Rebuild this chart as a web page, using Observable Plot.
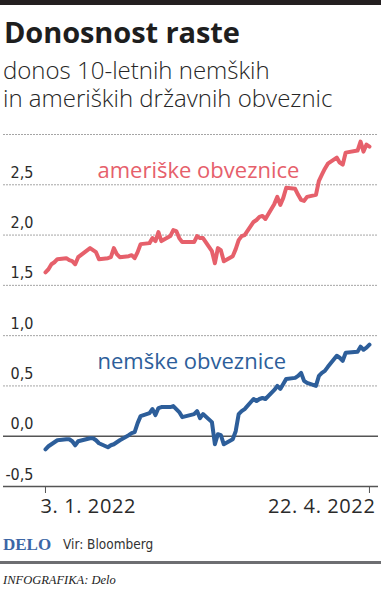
<!DOCTYPE html>
<html>
<head>
<meta charset="utf-8">
<script src="https://cdn.jsdelivr.net/npm/d3@7"></script>
<script src="https://cdn.jsdelivr.net/npm/@observablehq/plot@0.6"></script>
<style>
  html, body { margin: 0; padding: 0; background: #fff; }
  #wrap { position: relative; width: 381px; height: 595px; overflow: hidden; }
  .abs { position: absolute; white-space: nowrap; }
  #bar { left: 0; top: 0; width: 381px; height: 5px; background: #231f20; }
  #title { left: 4px; top: 17px; font: 700 29px/29px "Open Sans", sans-serif; color: #1e1e1e; letter-spacing: -0.1px; }
  .sub { left: 3px; font: 300 24px/24px "Open Sans", sans-serif; color: #262626; }
  #sub1 { top: 58px; }
  #sub2 { top: 86px; }
  #chart { left: 0; top: 120px; }
  #delo { left: 3px; top: 536px; font: 700 17px/17px "Liberation Serif", serif; color: #3c66a5; }
  #vir { left: 63px; top: 538px; font: 400 13.5px/13.5px "DejaVu Sans Condensed", "Liberation Sans Narrow", sans-serif; color: #333; }
  #rule { left: 0; top: 561px; width: 381px; height: 3px; background: #6d6e71; }
  #credit { left: 3px; top: 574px; font: italic 400 12.5px/12.5px "Liberation Serif", serif; color: #222; }
</style>
</head>
<body>
<div id="wrap">
  <div id="bar" class="abs"></div>
  <div id="title" class="abs">Donosnost raste</div>
  <div id="sub1" class="abs sub">donos 10-letnih nemških</div>
  <div id="sub2" class="abs sub">in ameriških državnih obveznic</div>
  <div id="chart" class="abs"></div>
  <div id="delo" class="abs">DELO</div>
  <div id="vir" class="abs">Vir: Bloomberg</div>
  <div id="rule" class="abs"></div>
  <div id="credit" class="abs">INFOGRAFIKA: Delo</div>
</div>
<script>
const dates = [
  "2022-01-03","2022-01-04","2022-01-05","2022-01-06","2022-01-07",
  "2022-01-10","2022-01-11","2022-01-12","2022-01-13","2022-01-14",
  "2022-01-18","2022-01-19","2022-01-20","2022-01-21",
  "2022-01-24","2022-01-25","2022-01-26","2022-01-27","2022-01-28",
  "2022-01-31","2022-02-01","2022-02-02","2022-02-03","2022-02-04",
  "2022-02-07","2022-02-08","2022-02-09","2022-02-10","2022-02-11",
  "2022-02-14","2022-02-15","2022-02-16","2022-02-17","2022-02-18",
  "2022-02-22","2022-02-23","2022-02-24","2022-02-25",
  "2022-02-28","2022-03-01","2022-03-02","2022-03-03","2022-03-04",
  "2022-03-07","2022-03-08","2022-03-09","2022-03-10","2022-03-11",
  "2022-03-14","2022-03-15","2022-03-16","2022-03-17","2022-03-18",
  "2022-03-21","2022-03-22","2022-03-23","2022-03-24","2022-03-25",
  "2022-03-28","2022-03-29","2022-03-30","2022-03-31","2022-04-01",
  "2022-04-04","2022-04-05","2022-04-06","2022-04-07","2022-04-08",
  "2022-04-11","2022-04-12","2022-04-13","2022-04-14",
  "2022-04-18","2022-04-19","2022-04-20","2022-04-21","2022-04-22"
];

const usYields = [
  1.63,1.66,1.71,1.73,1.76, 1.77,1.75,1.74,1.71,1.78, 1.87,1.85,1.83,1.76,
  1.77,1.78,1.87,1.81,1.78, 1.79,1.80,1.77,1.83,1.91, 1.92,1.97,1.94,2.03,1.94,
  1.99,2.05,2.04,1.97,1.93, 1.93,1.99,1.97,1.97,
  1.84,1.72,1.87,1.85,1.74, 1.79,1.86,1.95,1.99,2.00, 2.13,2.15,2.18,2.19,2.16,
  2.31,2.38,2.30,2.37,2.47, 2.46,2.40,2.35,2.34,2.38,
  2.40,2.54,2.60,2.66,2.71, 2.77,2.72,2.70,2.82, 2.84,2.93,2.83,2.90,2.88
];

const deYields = [
  -0.13,-0.10,-0.08,-0.06,-0.04, -0.03,-0.03,-0.05,-0.09,-0.05, -0.02,-0.02,-0.04,-0.07,
  -0.11,-0.09,-0.08,-0.06,-0.04, 0.01,0.03,0.04,0.13,0.20, 0.23,0.27,0.21,0.28,0.29,
  0.29,0.30,0.27,0.24,0.19, 0.22,0.25,0.18,0.22,
  0.14,-0.08,0.02,0.01,-0.08, -0.03,0.05,0.22,0.25,0.27, 0.37,0.35,0.37,0.38,0.37,
  0.46,0.50,0.47,0.52,0.57, 0.58,0.60,0.63,0.55,0.53,
  0.50,0.60,0.63,0.65,0.69, 0.80,0.78,0.75,0.83, 0.84,0.89,0.86,0.88,0.91
];

const seriesNames = ["ameriške obveznice", "nemške obveznice"];
const seriesColors = ["#e6606b", "#2d5e9a"];
const labelDates = ["2022-01-20T12:00Z", "2022-01-20T12:00Z"];
const labelValues = [2.64, 0.74];

const yTickValues = [-0.5, 0, 0.5, 1, 1.5, 2, 2.5];
const gridValues = [0.5, 1, 1.5, 2, 2.5, 3];
const solidValues = [-0.5, 0];
const xTickDates = ["2022-01-03", "2022-04-22"];
const xTickLabels = ["3. 1. 2022", "22. 4. 2022"];

const us = dates.map((d, i) => ({date: new Date(d), value: usYields[i]}));
const de = dates.map((d, i) => ({date: new Date(d), value: deYields[i]}));
const labels = seriesNames.map((n, i) => ({name: n, date: new Date(labelDates[i]), value: labelValues[i], color: seriesColors[i]}));
const xTicks = xTickDates.map((d, i) => ({date: new Date(d), label: xTickLabels[i]}));

const chart = Plot.plot({
  width: 381,
  height: 410,
  marginTop: 14,
  marginBottom: 44,
  marginLeft: 3,
  marginRight: 3,
  style: {fontFamily: "Open Sans, sans-serif", background: "transparent", overflow: "visible"},
  x: {type: "utc", domain: [new Date(Date.UTC(2021, 11, 19, 21)), new Date(Date.UTC(2022, 3, 25, 1))]},
  y: {domain: [-0.5, 3]},
  marks: [
    Plot.ruleY(gridValues, {stroke: "#a5a5a5", strokeWidth: 1, strokeDasharray: "2,1"}),
    Plot.ruleY(solidValues, {stroke: "#555", strokeWidth: 1.5}),
    Plot.axisY({ticks: yTickValues, anchor: "left", tickSize: 0, tickPadding: 0, dx: 30, dy: -12,
      textAnchor: "end", fontSize: 16, fontFamily: "DejaVu Sans Condensed, Liberation Sans Narrow, sans-serif",
      fill: "#2a2a2a", tickFormat: d => d.toFixed(1).replace(".", ","), label: null}),
    Plot.axisX({ticks: xTicks.map(t => t.date), tickSize: 7, tickFormat: () => "", stroke: "#555", label: null}),
    Plot.text(xTicks.slice(0, 1), {x: "date", text: "label", frameAnchor: "bottom", dy: 26, dx: -5,
      textAnchor: "start", fontSize: 20, fill: "#2a2a2a"}),
    Plot.text(xTicks.slice(1), {x: "date", text: "label", frameAnchor: "bottom", dy: 26, dx: 6,
      textAnchor: "end", fontSize: 20, fill: "#2a2a2a"}),
    Plot.line(us, {x: "date", y: "value", stroke: seriesColors[0], strokeWidth: 4, strokeLinejoin: "round", strokeLinecap: "round"}),
    Plot.line(de, {x: "date", y: "value", stroke: seriesColors[1], strokeWidth: 4, strokeLinejoin: "round", strokeLinecap: "round"}),
    Plot.text(labels, {x: "date", y: "value", text: "name", fill: "color", textAnchor: "start", fontSize: 22})
  ]
});
chart.querySelectorAll("text").forEach(t => {
  if (t.textContent.includes("2022")) t.style.letterSpacing = "0.6px";
});
document.getElementById("chart").appendChild(chart);
</script>
</body>
</html>
